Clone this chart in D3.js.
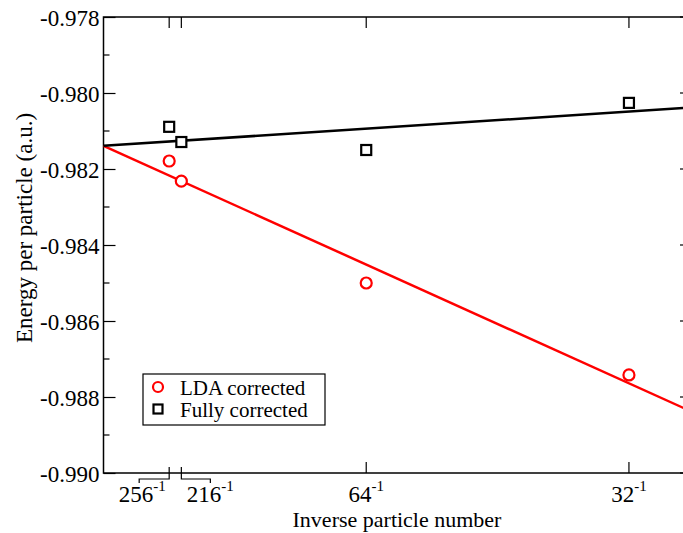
<!DOCTYPE html>
<html>
<head>
<meta charset="utf-8">
<script src="https://cdn.jsdelivr.net/npm/d3@7"></script>
<style>
  body { margin: 0; background: #fff; }
  text { font-family: "Liberation Serif", "Times New Roman", serif; }
</style>
</head>
<body>
<div id="chart"></div>
<script>
// inverse particle numbers (1/N)
var particleNumbers = [256, 216, 64, 32];
// energy per particle
var ldaCorrected = [-0.98179, -0.98232, -0.98500, -0.98742];
var fullyCorrected = [-0.98089, -0.98129, -0.98150, -0.98026];
// linear fits, at x = 0 and x = 0.035
var fitX = [0, 0.035];
var ldaFit = [-0.98139, -0.98839];
var fullyFit = [-0.98139, -0.98038];
var yTicks = [-0.978, -0.980, -0.982, -0.984, -0.986, -0.988, -0.990];

var margin = {top: 17, right: -9, bottom: 60, left: 103.5},
    width = 683 - margin.left - margin.right,
    height = 533 - margin.top - margin.bottom;

var svg = d3.select("#chart")
  .append("svg")
    .attr("width", 683)
    .attr("height", 533)
  .append("g")
    .attr("transform", `translate(${margin.left},${margin.top})`);

var x = d3.scaleLinear().domain([0, 0.035]).range([0, width]);
var y = d3.scaleLinear().domain([-0.990, -0.978]).range([height, 0]);

var xTickVals = particleNumbers.map(n => 1 / n);

// frame
svg.append("rect")
  .attr("width", width).attr("height", height)
  .attr("fill", "none").attr("stroke", "#000").attr("stroke-width", 1.5);

// left axis with inward ticks
var yAxis = svg.append("g")
  .call(d3.axisLeft(y).tickValues(yTicks).tickFormat(d3.format(".3f")).tickSizeInner(-12).tickSizeOuter(0).tickPadding(5));
yAxis.select(".domain").remove();
yAxis.selectAll("line").attr("stroke-width", 1.2);
yAxis.selectAll("text")
  .attr("x", -4)
  .attr("dy", "0.36em")
  .style("font-size", "23px")
  .text(d => d3.format(".3f")(d).replace("\u2212", "-"));

// minor y ticks
var minor = d3.range(0, 6).map(i => y.domain()[0] + 0.001 + i * 0.002);
svg.selectAll(".yminor").data(minor).enter().append("line")
  .attr("x1", 0).attr("x2", 6)
  .attr("y1", d => y(d)).attr("y2", d => y(d))
  .attr("stroke", "#000").attr("stroke-width", 1.2);
// right axis ticks
svg.selectAll(".yright").data(yTicks).enter().append("line")
  .attr("x1", width).attr("x2", width - 12)
  .attr("y1", d => y(d)).attr("y2", d => y(d))
  .attr("stroke", "#000").attr("stroke-width", 1.2);

// top ticks
svg.selectAll(".xtop").data(xTickVals).enter().append("line")
  .attr("x1", d => x(d)).attr("x2", d => x(d))
  .attr("y1", 0).attr("y2", 11)
  .attr("stroke", "#000").attr("stroke-width", 1.2);

// bottom ticks and labels (two left ones use brackets)
var labelShift = [-27, 29, 0, 0];
xTickVals.forEach(function(v, i) {
  var px = x(v);
  if (labelShift[i] === 0) {
    svg.append("line")
      .attr("x1", px).attr("x2", px)
      .attr("y1", height).attr("y2", height - 11)
      .attr("stroke", "#000").attr("stroke-width", 1.2);
  } else {
    var ex = px + labelShift[i] + (labelShift[i] < 0 ? -3 : 0);
    svg.append("path")
      .attr("d", `M${px},${height - 6}V${height + 6}H${ex}V${height + 10}`)
      .attr("fill", "none").attr("stroke", "#000").attr("stroke-width", 1.2);
  }
  var t = svg.append("text")
    .attr("x", px + labelShift[i])
    .attr("y", height + 29)
    .attr("text-anchor", "middle")
    .style("font-size", "23px");
  t.append("tspan").text(particleNumbers[i]);
  t.append("tspan").attr("dy", -11).style("font-size", "15px").text("-1");
});

// axis titles
svg.append("text")
  .attr("x", 397 - margin.left)
  .attr("y", 527 - margin.top)
  .attr("text-anchor", "middle")
  .style("font-size", "22px")
  .text("Inverse particle number");

svg.append("text")
  .attr("transform", `translate(${32 - margin.left},${228 - margin.top}) rotate(-90)`)
  .attr("text-anchor", "middle")
  .style("font-size", "23px")
  .text("Energy per particle (a.u.)");

// fit lines
var line = d3.line().x(d => x(d[0])).y(d => y(d[1]));
svg.append("path")
  .datum(fitX.map((v, i) => [v, ldaFit[i]]))
  .attr("d", line).attr("fill", "none").attr("stroke", "#ff0000").attr("stroke-width", 2.5);
svg.append("path")
  .datum(fitX.map((v, i) => [v, fullyFit[i]]))
  .attr("d", line).attr("fill", "none").attr("stroke", "#000").attr("stroke-width", 2.5);

// data points
svg.selectAll(".lda").data(ldaCorrected).enter().append("circle")
  .attr("cx", (d, i) => x(xTickVals[i]))
  .attr("cy", d => y(d))
  .attr("r", 5.5)
  .attr("fill", "#fff").attr("stroke", "#ff0000").attr("stroke-width", 2.2);

svg.selectAll(".full").data(fullyCorrected).enter().append("rect")
  .attr("x", (d, i) => x(xTickVals[i]) - 5)
  .attr("y", d => y(d) - 5)
  .attr("width", 10).attr("height", 10)
  .attr("fill", "#fff").attr("stroke", "#000").attr("stroke-width", 2.2);

// legend
var legend = svg.append("g").attr("transform", `translate(${143 - margin.left},${374 - margin.top})`);
legend.append("rect")
  .attr("width", 182).attr("height", 51)
  .attr("fill", "#fff").attr("stroke", "#000").attr("stroke-width", 1.2);
legend.append("circle")
  .attr("cx", 15).attr("cy", 13).attr("r", 5)
  .attr("fill", "none").attr("stroke", "#ff0000").attr("stroke-width", 2.2);
legend.append("rect")
  .attr("x", 10.5).attr("y", 30.5).attr("width", 9).attr("height", 9)
  .attr("fill", "none").attr("stroke", "#000").attr("stroke-width", 2.2);
legend.append("text").attr("x", 37).attr("y", 21).style("font-size", "21px").text("LDA corrected");
legend.append("text").attr("x", 37).attr("y", 43).style("font-size", "21px").text("Fully corrected");
</script>
</body>
</html>
